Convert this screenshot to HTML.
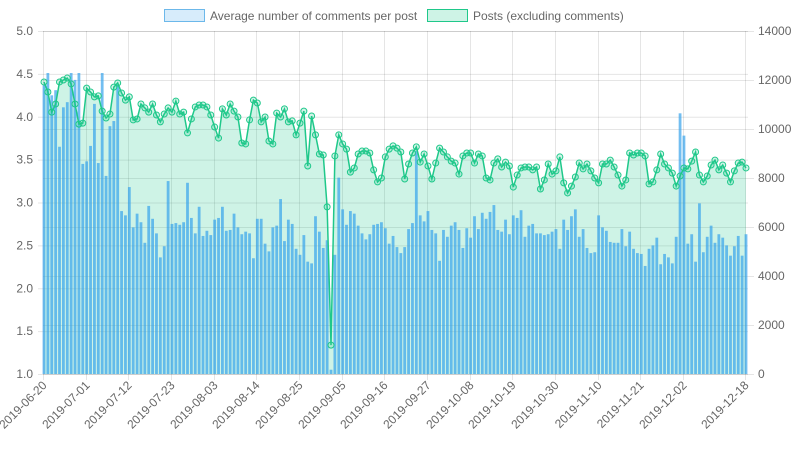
<!DOCTYPE html>
<html><head><meta charset="utf-8">
<style>
body{margin:0;background:#fff;font-family:"Liberation Sans",sans-serif;}
svg text{font-family:"Liberation Sans",sans-serif;font-size:12px;fill:#666;}
</style></head>
<body>
<svg id="chart" width="798" height="450" xmlns="http://www.w3.org/2000/svg">
<g>
<g>
<rect x="164.5" y="9.5" width="40" height="12" fill="rgba(54,162,235,0.2)" stroke="#6cb8ea" stroke-width="1"/>
<text x="210" y="20">Average number of comments per post</text></g>
<g>
<rect x="427.5" y="9.5" width="40" height="12" fill="rgba(30,200,140,0.22)" stroke="#1fc88a" stroke-width="1"/>
<text x="473" y="20">Posts (excluding comments)</text></g>
</g>
<g id="grid"></g><g id="fill"></g><g id="bars"></g><g id="line"></g><g id="axes"></g>
</svg>
<script>
const startDate = "2019-06-20";
const avgComments = [4.37,4.51,4.25,4.31,3.65,4.11,4.17,4.51,4.43,4.51,3.45,3.48,3.66,4.15,3.46,4.51,3.31,3.89,3.95,4.37,
2.90,2.85,3.18,2.71,2.87,2.77,2.53,2.96,2.81,2.64,2.36,2.49,3.25,2.75,2.76,2.74,2.77,3.23,2.82,2.64,
2.95,2.61,2.67,2.62,2.80,2.82,2.95,2.67,2.68,2.87,2.71,2.63,2.66,2.64,2.35,2.81,2.81,2.52,2.43,2.71,
2.73,3.04,2.55,2.80,2.75,2.46,2.39,2.62,2.31,2.29,2.84,2.66,2.47,2.56,1.05,2.39,3.29,2.92,2.74,2.90,
2.87,2.73,2.64,2.57,2.63,2.74,2.75,2.77,2.70,2.52,2.61,2.48,2.41,2.48,2.69,2.76,3.60,2.85,2.78,2.90,
2.68,2.64,2.32,2.68,2.60,2.73,2.77,2.68,2.47,2.70,2.59,2.84,2.69,2.88,2.81,2.89,2.97,2.68,2.66,2.80,
2.63,2.85,2.82,2.91,2.60,2.73,2.75,2.64,2.64,2.62,2.63,2.66,2.69,2.46,2.80,2.68,2.84,2.92,2.60,2.69,
2.47,2.41,2.42,2.85,2.71,2.67,2.54,2.53,2.53,2.69,2.49,2.66,2.46,2.41,2.40,2.26,2.46,2.50,2.59,2.28,
2.40,2.36,2.29,2.60,4.04,3.78,2.52,2.63,2.31,2.99,2.42,2.60,2.73,2.53,2.63,2.59,2.50,2.38,2.49,2.61,
2.38,2.63];
const postCounts = [11920,11510,10690,11020,11920,12000,12080,11840,11020,10200,10240,11670,11510,11310,11350,10730,10450,10610,11710,11880,
11470,11180,11310,10370,10410,11020,10860,10690,11020,10570,10290,10610,10860,10690,11140,10610,10690,9840,10410,10900,
10980,10980,10900,10570,10080,9630,10820,10570,11020,10730,10490,9430,9390,10370,11180,11060,10290,10490,9510,9390,
10650,10490,10820,10290,10330,9760,10240,10730,8490,10530,9760,8980,8940,6820,1180,8900,9760,9390,9180,8240,
8410,8980,9100,9100,9020,8330,7840,8000,8860,9180,9310,9220,9060,7960,8570,9020,9270,8650,8980,8490,
7960,8610,9220,9060,8860,8690,8610,8160,8900,9020,9020,8610,8980,8900,8000,7920,8610,8780,8450,8650,
8490,7630,8120,8410,8450,8450,8330,8450,7550,7920,8570,8160,8290,8860,7800,7390,7670,8040,8610,8370,
8570,8290,8000,7800,8570,8570,8730,8450,8120,7670,7920,9020,8940,9020,9020,8900,7760,7840,8330,8980,
8570,8410,8200,7670,8080,8410,8370,8690,9060,8120,7840,8080,8530,8730,8330,8530,8200,7840,8290,8610,
8650,8410];
const leftTicks = [1.0,1.5,2.0,2.5,3.0,3.5,4.0,4.5,5.0];
const rightTicks = [0,2000,4000,6000,8000,10000,12000,14000];
const tickEvery = 11;

const NS="http://www.w3.org/2000/svg";
const X0=44, X1=746, YT=31, YB=374;
const n = avgComments.length;
const xs = i => X0 + i*(X1-X0)/(n-1);
const yL = v => YB - (v-1)/(5-1)*(YB-YT);
const yR = v => YB - v/14000*(YB-YT);
function mk(tag, attrs, parent){const e=document.createElementNS(NS,tag);for(const k in attrs)e.setAttribute(k,attrs[k]);parent.appendChild(e);return e;}
const grid=document.getElementById('grid'), fill=document.getElementById('fill'), bars=document.getElementById('bars'), line=document.getElementById('line'), axes=document.getElementById('axes');
function dateLabel(i){const d=new Date(startDate+"T00:00:00Z");d.setUTCDate(d.getUTCDate()+i);return d.toISOString().slice(0,10);}

leftTicks.forEach(t=>{
 const l=mk('line',{x1:38,x2:X1+2,y1:yL(t)+0.5,y2:yL(t)+0.5,stroke:'rgba(0,0,0,0.1)'},grid);
 
 
 const tx=mk('text',{x:33,y:yL(t)+4,'text-anchor':'end'},axes);
 tx.textContent=t.toFixed(1);
 
 
});
rightTicks.forEach(t=>{
 const l=mk('line',{x1:X0-1,x2:X1+8,y1:yR(t)+0.5,y2:yR(t)+0.5,stroke:'rgba(0,0,0,0.1)'},grid);
 
 
 const tx=mk('text',{x:758,y:yR(t)+4,'text-anchor':'start'},axes);
 tx.textContent=String(t);
 
 
});
const tickIdx=[];for(let i=0;i<n;i+=tickEvery){if(n-1-i>=6)tickIdx.push(i);}tickIdx.push(n-1);
tickIdx.forEach(i=>{
 const x=Math.round(xs(i))-0.5;
 const l=mk('line',{x1:x,x2:x,y1:YT,y2:YB+6,stroke:'rgba(0,0,0,0.1)'},grid);
 
 
 const tx=mk('text',{x:x+4,y:YB+12,'text-anchor':'end',transform:`rotate(-45 ${x+4} ${YB+12})`},axes);
 tx.textContent=dateLabel(i);
 
 
});
let d=`M${xs(0)},${YB}`;postCounts.forEach((v,i)=>{d+=` L${xs(i)},${yR(v)}`});d+=` L${xs(n-1)},${YB} Z`;
const area=mk('path',{d:d,fill:'rgba(30,200,140,0.22)',stroke:'none'},fill);


avgComments.forEach((v,i)=>{
 const b=mk('rect',{x:xs(i)-1.4,y:yL(v),width:2.8,height:YB-yL(v),fill:'rgba(54,162,235,0.7)'},bars);
 
 
});
let p='';postCounts.forEach((v,i)=>{p+=(i?' L':'M')+xs(i)+','+yR(v)});
const pl=mk('path',{d:p,fill:'none',stroke:'#1fc88a','stroke-width':1.5},line);


postCounts.forEach((v,i)=>{
 const c=mk('circle',{cx:xs(i),cy:yR(v),r:3,fill:'rgba(30,200,140,0.2)',stroke:'#1fc88a','stroke-width':1},line);
 
 
});
</script>
</body></html>
